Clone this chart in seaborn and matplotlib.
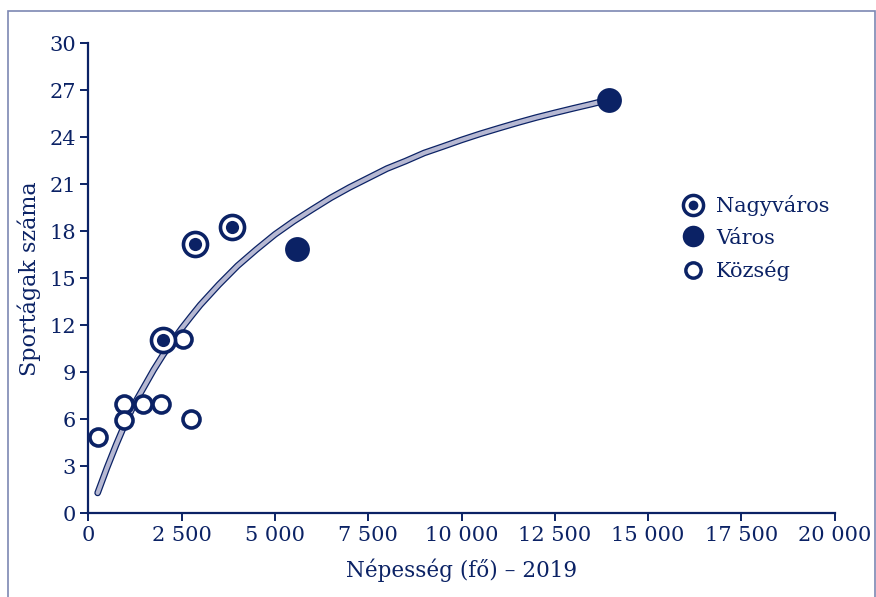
import matplotlib
matplotlib.use("Agg")
import matplotlib.pyplot as plt
import seaborn as sns
import pandas as pd
from matplotlib.lines import Line2D
from matplotlib.legend_handler import HandlerTuple
from matplotlib.patches import Rectangle

navy = '#0b2265'

nepesseg_kozseg = [268, 965, 965, 1458, 1948, 2546, 2752]
sport_kozseg = [4.9, 7.0, 5.95, 7.0, 7.0, 11.1, 6.05]
nepesseg_nagyvaros = [2010, 2859, 3851]
sport_nagyvaros = [11.05, 17.2, 18.25]
nepesseg_varos = [5592, 13950]
sport_varos = [16.85, 26.4]

# trend curve
trend_x = [250, 500, 750, 1000, 1250, 1500, 1750, 2000, 2250, 2500, 2750, 3000,
           3500, 4000, 4500, 5000, 5500, 6000, 6500, 7000, 7500, 8000, 8500,
           9000, 9500, 10000, 10500, 11000, 11500, 12000, 12500, 13000, 13500, 13950]
trend_y = [1.3, 2.9, 4.4, 5.8, 7.05, 8.1, 9.15, 10.1, 10.97, 11.8, 12.56, 13.3,
           14.6, 15.8, 16.83, 17.8, 18.64, 19.4, 20.14, 20.8, 21.4, 22.0, 22.48,
           23.0, 23.41, 23.83, 24.22, 24.58, 24.93, 25.26, 25.56, 25.85, 26.13, 26.4]

x_ticks = [0, 2500, 5000, 7500, 10000, 12500, 15000, 17500, 20000]
x_ticklabels = ['0', '2 500', '5 000', '7 500', '10 000', '12 500', '15 000', '17 500', '20 000']
y_ticks = [0, 3, 6, 9, 12, 15, 18, 21, 24, 27, 30]

sns.set_style('ticks')
plt.rcParams['font.family'] = ['DejaVu Serif']

fig = plt.figure(figsize=(8.76, 5.97), dpi=100)
ax = fig.add_axes([88.3 / 876, 1 - 513.3 / 597, (834.7 - 88.3) / 876, (513.3 - 43.3) / 597])

trend = pd.DataFrame({'x': trend_x, 'y': trend_y})
sns.lineplot(data=trend, x='x', y='y', ax=ax, color=navy, lw=4.8,
             solid_capstyle='round', solid_joinstyle='round', sort=False)
sns.lineplot(data=trend, x='x', y='y', ax=ax, color='#b6b8d2', lw=3.0,
             solid_capstyle='round', solid_joinstyle='round', sort=False)

kozseg = pd.DataFrame({'x': nepesseg_kozseg, 'y': sport_kozseg})
nagy = pd.DataFrame({'x': nepesseg_nagyvaros, 'y': sport_nagyvaros})
varos = pd.DataFrame({'x': nepesseg_varos, 'y': sport_varos})

sns.scatterplot(data=kozseg, x='x', y='y', ax=ax, s=150, color='white',
                edgecolor=navy, linewidth=2.6, zorder=3, clip_on=False)
sns.scatterplot(data=nagy, x='x', y='y', ax=ax, s=300, color='white',
                edgecolor=navy, linewidth=2.6, zorder=4, clip_on=False)
sns.scatterplot(data=nagy, x='x', y='y', ax=ax, s=90, color=navy,
                edgecolor=navy, linewidth=0, zorder=5, clip_on=False)
sns.scatterplot(data=varos, x='x', y='y', ax=ax, s=320, color=navy,
                edgecolor=navy, linewidth=0, zorder=4, clip_on=False)

ax.set_xlim(0, 20000)
ax.set_ylim(0, 30)
ax.set_xticks(x_ticks)
ax.set_xticklabels(x_ticklabels)
ax.set_yticks(y_ticks)
ax.tick_params(colors=navy, labelsize=15, length=6, width=1.4, pad=3)
for s in ['left', 'bottom']:
    ax.spines[s].set_color(navy)
    ax.spines[s].set_linewidth(1.6)
sns.despine(ax=ax)

ax.set_xlabel('Népesség (fő) – 2019', fontsize=15.5, color=navy, labelpad=10)
ax.set_ylabel('Sportágak száma', fontsize=16, color=navy, labelpad=6)

h_nagy = (Line2D([], [], ls='', marker='o', ms=14.5, mfc='white', mec=navy, mew=2.5),
          Line2D([], [], ls='', marker='o', ms=7, mfc=navy, mec=navy, mew=0))
h_varos = Line2D([], [], ls='', marker='o', ms=15.5, mfc=navy, mec=navy, mew=0)
h_kozseg = Line2D([], [], ls='', marker='o', ms=11, mfc='white', mec=navy, mew=2.5)
leg = ax.legend([h_nagy, h_varos, h_kozseg], ['Nagyváros', 'Város', 'Község'],
                handler_map={tuple: HandlerTuple(ndivide=1, pad=0)},
                loc='upper left', bbox_to_anchor=(682.6 / 876, 1 - 195 / 597),
                bbox_transform=fig.transFigure, frameon=False, fontsize=15,
                handlelength=1.0, handletextpad=0.6, labelspacing=0.6,
                borderpad=0, borderaxespad=0)
for t in leg.get_texts():
    t.set_color(navy)

fig.patches.append(Rectangle((8 / 876, -0.1), (875 - 8) / 876, 1.1 - 11 / 597,
                             transform=fig.transFigure, fill=False,
                             edgecolor='#7d87b3', lw=1.2))

fig.savefig('out.png', dpi=100)
